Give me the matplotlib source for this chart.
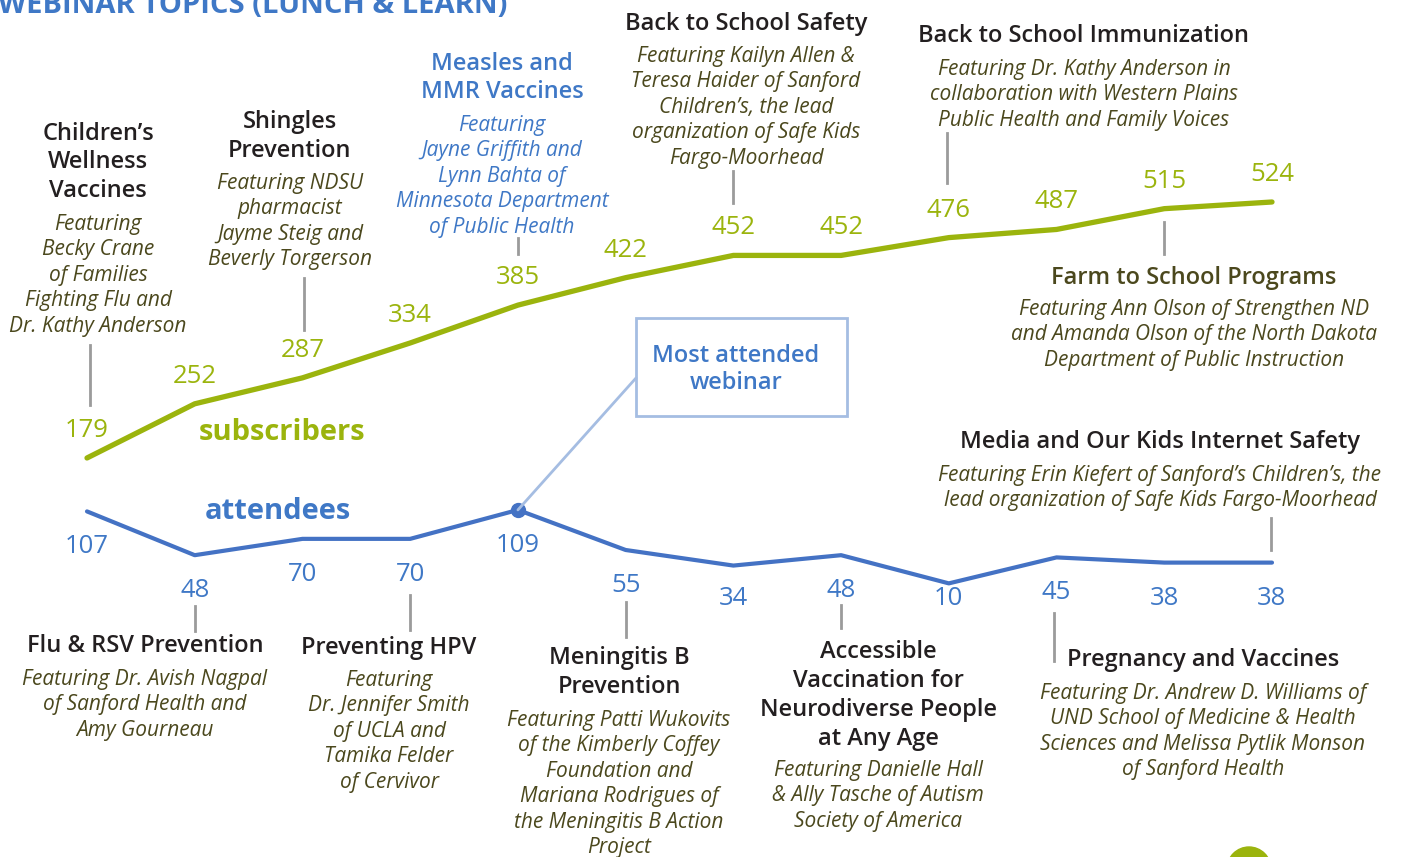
import matplotlib.pyplot as plt
from matplotlib.patches import Rectangle, Ellipse
import matplotlib.transforms as mtransforms

plt.rcParams['font.family'] = ['Open Sans', 'DejaVu Sans']

W, H = 1402, 857

# data
subscribers = [179, 252, 287, 334, 385, 422, 452, 452, 476, 487, 515, 524]
attendees = [107, 48, 70, 70, 109, 55, 34, 48, 10, 45, 38, 38]

titles = [
    ['Children\u2019s', 'Wellness', 'Vaccines'],
    ['Flu & RSV Prevention'],
    ['Shingles', 'Prevention'],
    ['Preventing HPV'],
    ['Measles and', 'MMR Vaccines'],
    ['Meningitis B', 'Prevention'],
    ['Back to School Safety'],
    ['Accessible', 'Vaccination for', 'Neurodiverse People', 'at Any Age'],
    ['Back to School Immunization'],
    ['Pregnancy and Vaccines'],
    ['Farm to School Programs'],
    ['Media and Our Kids Internet Safety'],
]
featuring = [
    ['Featuring', 'Becky Crane', 'of Families', 'Fighting Flu and', 'Dr. Kathy Anderson'],
    ['Featuring Dr. Avish Nagpal', 'of Sanford Health and', 'Amy Gourneau'],
    ['Featuring NDSU', 'pharmacist', 'Jayme Steig and', 'Beverly Torgerson'],
    ['Featuring', 'Dr. Jennifer Smith', 'of UCLA and', 'Tamika Felder', 'of Cervivor'],
    ['Featuring', 'Jayne Griffith and', 'Lynn Bahta of', 'Minnesota Department', 'of Public Health'],
    ['Featuring Patti Wukovits', 'of the Kimberly Coffey', 'Foundation and',
     'Mariana Rodrigues of', 'the Meningitis B Action', 'Project'],
    ['Featuring Kailyn Allen &', 'Teresa Haider of Sanford', 'Children\u2019s, the lead',
     'organization of Safe Kids', 'Fargo-Moorhead'],
    ['Featuring Danielle Hall', '& Ally Tasche of Autism', 'Society of America'],
    ['Featuring Dr. Kathy Anderson in', 'collaboration with Western Plains',
     'Public Health and Family Voices'],
    ['Featuring Dr. Andrew D. Williams of', 'UND School of Medicine & Health',
     'Sciences and Melissa Pytlik Monson', 'of Sanford Health'],
    ['Featuring Ann Olson of Strengthen ND', 'and Amanda Olson of the North Dakota',
     'Department of Public Instruction'],
    ['Featuring Erin Kiefert of Sanford\u2019s Children\u2019s, the',
     'lead organization of Safe Kids Fargo-Moorhead'],
]
most_attended = 4

# colours
green = '#9bb40d'
blue = '#4472c4'
blue_txt = '#3f78c6'
dark = '#231f20'
olive = '#4b481d'
grey = '#9b9b9b'
pale_blue = '#a5bde2'

# layout (pixels): centre x, first title line, first featuring line, leader top/bottom
layout = {
    0: (98, 131, 222, 345, 405),
    1: (145, 643, 677, 606, 631),
    2: (290, 120, 181, 278, 330),
    3: (389, 645, 678, 595, 630),
    4: (502, 61, 123, 238, 254),
    5: (619, 656, 718, 602, 637),
    6: (746, 21, 54, 171, 203),
    7: (878, 650, 768, 605, 628),
    8: (1084, 34, 67, 133, 183),
    9: (1203, 658, 691, 613, 661),
    10: (1194, 275, 307, 222, 254),
    11: (1160, 440, 473, 518, 550),
}
leader_x = {0: 90, 2: 304, 8: 947, 9: 1054, 11: 1271}
text_shift = 2.5  # centre alignment sits a bit high for Open Sans

fig = plt.figure(figsize=(W / 100, H / 100), dpi=100)
ax = fig.add_axes([0, 0, 1, 1])
ax.axis('off')

# map index/value so the lines sit where they do in the original
x0, dx = 87, (1272 - 87) / 11
y_zero, py = 590.8, 0.742
ax.set_xlim(-x0 / dx, (W - x0) / dx)
ax.set_ylim((y_zero - H) / py, y_zero / py)

idx = list(range(len(subscribers)))
ax.plot(idx, subscribers, color=green, lw=3.8, solid_capstyle='round', solid_joinstyle='round')
ax.plot(idx, attendees, color=blue, lw=3.0, solid_capstyle='round', solid_joinstyle='round')
ax.plot([most_attended], [attendees[most_attended]], 'o', color=blue, ms=10)

for i, v in enumerate(subscribers):
    ax.annotate(str(v), (i, v), xytext=(0, 30 - text_shift), textcoords='offset pixels',
                ha='center', va='center', fontsize=18.5, color=green)
blue_off = {6: 30, 8: 13}
for i, v in enumerate(attendees):
    ax.annotate(str(v), (i, v), xytext=(0, -blue_off.get(i, 33) - text_shift),
                textcoords='offset pixels',
                ha='center', va='center', fontsize=18.5, color=blue_txt)


def fy(y):
    return 1 - y / H


def ty(y):
    return fy(y + text_shift)


def block(lines, cx, y0, dy, **kw):
    for k, line in enumerate(lines):
        fig.text(cx / W, ty(y0 + k * dy), line, ha='center', va='center', **kw)


trans_x = mtransforms.blended_transform_factory(ax.transData, fig.transFigure)
for i in idx:
    cx, t_y, f_y, l0, l1 = layout[i]
    tcol, fcol = dark, olive
    if i == most_attended:
        tcol, fcol = blue_txt, blue_txt
    if i == 10:
        tcol = olive
    block(titles[i], cx, t_y, 28.7, fontsize=17, fontweight='semibold', color=tcol)
    block(featuring[i], cx, f_y, 25.4, fontsize=15, color=fcol, style='italic')
    lx = (leader_x.get(i, x0 + i * dx) - x0) / dx
    ax.plot([lx, lx], [fy(l0), fy(l1)], color=grey, lw=2, transform=trans_x)

# series names
fig.text(282 / W, ty(430), 'subscribers', ha='center', va='center',
         fontsize=21, fontweight='bold', color=green)
fig.text(278 / W, ty(509), 'attendees', ha='center', va='center',
         fontsize=21, fontweight='bold', color=blue_txt)

# callout box for the most attended webinar
fig.patches.append(Rectangle((636 / W, fy(416)), 211 / W, 98 / H, transform=fig.transFigure,
                             fill=False, edgecolor=pale_blue, lw=2))
ax.annotate('', xy=(most_attended, attendees[most_attended]), xytext=(636 / W, fy(378)),
            textcoords='figure fraction',
            arrowprops=dict(arrowstyle='-', color=pale_blue, lw=2, shrinkA=0, shrinkB=0))
fig.text(736 / W, ty(353), 'Most attended', ha='center', va='center', fontsize=17,
         fontweight='semibold', color=blue_txt)
fig.text(736 / W, ty(381), 'webinar', ha='center', va='center', fontsize=17,
         fontweight='semibold', color=blue_txt)

# heading (cut off at top of page)
fig.text(-2 / W, fy(13), 'WEBINAR TOPICS (LUNCH & LEARN)', ha='left', va='baseline',
         fontsize=21, fontweight='bold', color=blue_txt)

# page decoration
fig.patches.append(Ellipse((1249 / W, fy(869)), 44 / W, 44 / H, transform=fig.transFigure,
                           color=green))

fig.savefig('out.png', dpi=100)
